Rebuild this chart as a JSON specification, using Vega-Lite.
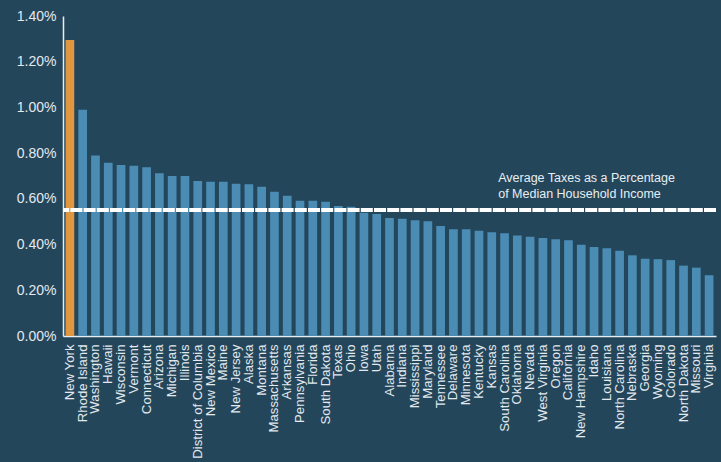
{
  "$schema": "https://vega.github.io/schema/vega-lite/v6.json",
  "width": 653,
  "height": 320,
  "autosize": {"type": "none"},
  "padding": {"left": 63, "top": 16, "right": 5, "bottom": 126},
  "background": "#24465b",
  "config": {
    "view": {"stroke": null},
    "font": "Liberation Sans",
    "axis": {"grid": false, "ticks": false, "domainColor": "#e8edf1", "domainWidth": 1.5, "labelColor": "#e3e9ee", "labelFont": "Liberation Sans"}
  },
  "data": {
    "values": [
      {"state": "New York", "pct": 1.295},
      {"state": "Rhode Island", "pct": 0.99},
      {"state": "Washington", "pct": 0.79},
      {"state": "Hawaii", "pct": 0.758},
      {"state": "Wisconsin", "pct": 0.748},
      {"state": "Vermont", "pct": 0.745},
      {"state": "Connecticut", "pct": 0.738},
      {"state": "Arizona", "pct": 0.712},
      {"state": "Michigan", "pct": 0.70},
      {"state": "Illinois", "pct": 0.70},
      {"state": "District of Columbia", "pct": 0.678},
      {"state": "New Mexico", "pct": 0.675},
      {"state": "Maine", "pct": 0.675},
      {"state": "New Jersey", "pct": 0.666},
      {"state": "Alaska", "pct": 0.664},
      {"state": "Montana", "pct": 0.653},
      {"state": "Massachusetts", "pct": 0.631},
      {"state": "Arkansas", "pct": 0.614},
      {"state": "Pennsylvania", "pct": 0.592},
      {"state": "Florida", "pct": 0.592},
      {"state": "South Dakota", "pct": 0.587},
      {"state": "Texas", "pct": 0.569},
      {"state": "Ohio", "pct": 0.566},
      {"state": "Iowa", "pct": 0.539},
      {"state": "Utah", "pct": 0.534},
      {"state": "Alabama", "pct": 0.516},
      {"state": "Indiana", "pct": 0.513},
      {"state": "Mississippi", "pct": 0.506},
      {"state": "Maryland", "pct": 0.502},
      {"state": "Tennessee", "pct": 0.481},
      {"state": "Delaware", "pct": 0.467},
      {"state": "Minnesota", "pct": 0.467},
      {"state": "Kentucky", "pct": 0.461},
      {"state": "Kansas", "pct": 0.454},
      {"state": "South Carolina", "pct": 0.449},
      {"state": "Oklahoma", "pct": 0.440},
      {"state": "Nevada", "pct": 0.434},
      {"state": "West Virginia", "pct": 0.429},
      {"state": "Oregon", "pct": 0.423},
      {"state": "California", "pct": 0.419},
      {"state": "New Hampshire", "pct": 0.399},
      {"state": "Idaho", "pct": 0.389},
      {"state": "Louisiana", "pct": 0.384},
      {"state": "North Carolina", "pct": 0.373},
      {"state": "Nebraska", "pct": 0.353},
      {"state": "Georgia", "pct": 0.338},
      {"state": "Wyoming", "pct": 0.336},
      {"state": "Colorado", "pct": 0.332},
      {"state": "North Dakota", "pct": 0.308},
      {"state": "Missouri", "pct": 0.299},
      {"state": "Virginia", "pct": 0.266}
    ]
  },
  "layer": [
    {
      "mark": {"type": "bar"},
      "encoding": {
        "x": {
          "field": "state", "type": "nominal", "sort": null,
          "scale": {"paddingInner": 0.32, "paddingOuter": 0.2},
          "axis": {"title": null, "labelAngle": -90, "labelFontSize": 13.2, "labelPadding": 8, "labelAlign": "right", "labelBaseline": "middle"}
        },
        "y": {
          "field": "pct", "type": "quantitative",
          "scale": {"domain": [0, 1.4]},
          "axis": {"title": null, "values": [0, 0.2, 0.4, 0.6, 0.8, 1.0, 1.2, 1.4], "labelExpr": "format(datum.value, '.2f') + '%'", "labelFontSize": 14, "labelPadding": 7}
        },
        "color": {
          "condition": {"test": "datum.state === 'New York'", "value": "#e0973f"},
          "value": "#4a8cb4"
        }
      }
    },
    {
      "transform": [{"filter": "datum.state === 'New York'"}],
      "mark": {"type": "rule", "color": "#ffffff", "strokeWidth": 4, "strokeDash": [12, 1.2]},
      "encoding": {"y": {"datum": 0.551}}
    },
    {
      "transform": [{"filter": "datum.state === 'South Carolina'"}],
      "mark": {"type": "text", "align": "left", "baseline": "alphabetic", "fontSize": 12.5, "color": "#e8eef2", "lineHeight": 16, "dy": -28, "dx": -2},
      "encoding": {
        "x": {"field": "state", "type": "nominal", "sort": null, "bandPosition": 0},
        "y": {"datum": 0.551},
        "text": {"value": ["Average Taxes as a Percentage", "of Median Household Income"]}
      }
    }
  ]
}
